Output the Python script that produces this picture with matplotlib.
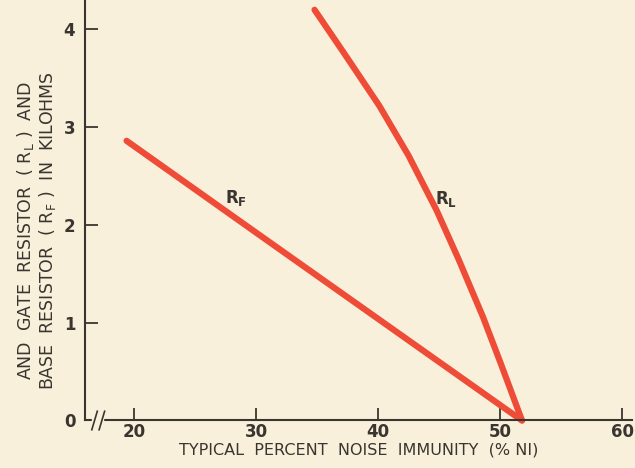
import matplotlib
matplotlib.use("Agg")
import matplotlib.pyplot as plt

# Values (x = % noise immunity, y = kilohms)
rf_x = [19.4, 29.8, 51.8]
rf_y = [2.86, 1.94, 0.0]

rl_x = [34.8, 37.2, 40.1, 42.5, 44.8, 46.6, 48.6, 50.1, 51.8]
rl_y = [4.20, 3.76, 3.22, 2.71, 2.15, 1.65, 1.06, 0.57, 0.0]

x_ticks = [20, 30, 40, 50, 60]
y_ticks = [0, 1, 2, 3, 4]

bg = "#f8f0da"
ink = "#3a3530"
red = "#ef4c38"

plt.rcParams["font.family"] = ["DejaVu Sans"]
plt.rcParams["mathtext.default"] = "regular"

fig = plt.figure(figsize=(6.35, 4.68), dpi=100, facecolor=bg)
ax = fig.add_axes([0.134, 0.1015, 0.861, 0.8985], facecolor=bg)

ax.plot(rf_x, rf_y, color=red, lw=4.5, solid_capstyle="round",
        solid_joinstyle="round", clip_on=False)
ax.plot(rl_x, rl_y, color=red, lw=4.5, solid_capstyle="round",
        solid_joinstyle="round", clip_on=False)

ax.text(28.4, 2.28, r"R$_F$", fontsize=12, color=ink,
        fontweight="bold", ha="center", va="center")
ax.text(45.6, 2.27, r"R$_L$", fontsize=12, color=ink,
        fontweight="bold", ha="center", va="center")

ax.set_xlim(16.0, 60.8)
ax.set_ylim(0, 4.3)
ax.set_xticks(x_ticks)
ax.set_yticks(y_ticks)
ax.tick_params(direction="in", length=9, width=1.3, color=ink,
               labelcolor=ink, labelsize=12)
ax.tick_params(axis="x", pad=2)
ax.tick_params(axis="y", pad=7)
for lab in ax.get_xticklabels() + ax.get_yticklabels():
    lab.set_fontweight("semibold")

for s in ["top", "right"]:
    ax.spines[s].set_visible(False)
for s in ["left", "bottom"]:
    ax.spines[s].set_color(ink)
    ax.spines[s].set_linewidth(1.5)

# axis break on x
tr = ax.get_xaxis_transform()
ax.fill_between([16.6, 17.5], -0.01, 0.01, transform=tr, color=bg,
                zorder=5, clip_on=False)
for xb in (16.7, 17.3):
    ax.plot([xb - 0.15, xb + 0.3], [-0.022, 0.022], transform=tr, color=ink,
            lw=1.2, zorder=6, clip_on=False)

ax.set_xlabel("TYPICAL  PERCENT  NOISE  IMMUNITY  (% NI)", fontsize=11.5,
              color=ink, labelpad=1)
fig.text(0.058, 0.508,
         r"AND  GATE  RESISTOR  ( R$_L$ )  AND" "\n"
         r"BASE  RESISTOR  ( R$_F$ )  IN  KILOHMS",
         rotation=90, ha="center", va="center", fontsize=12.5, color=ink,
         linespacing=1.05)

fig.savefig("out.png", dpi=100, facecolor=bg)
